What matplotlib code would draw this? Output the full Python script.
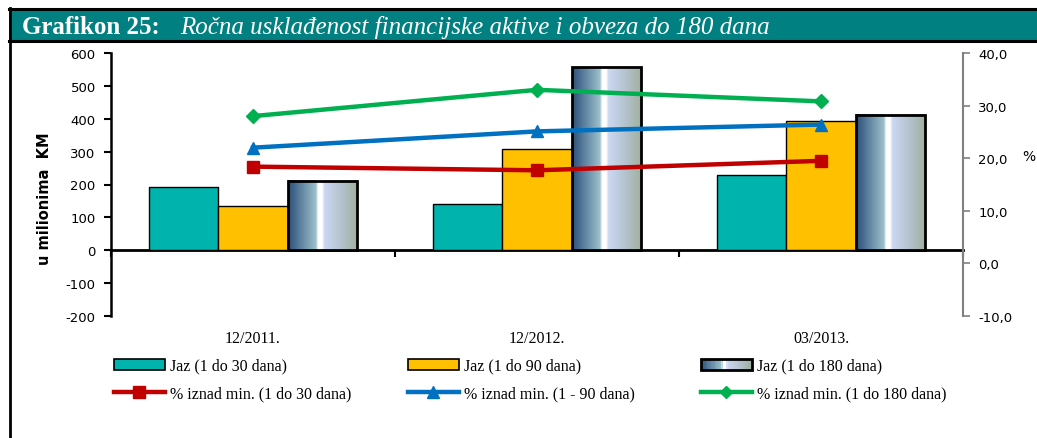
import numpy as np
import matplotlib
matplotlib.use("Agg")
import matplotlib.pyplot as plt
from matplotlib.patches import Rectangle
from matplotlib.lines import Line2D
from matplotlib.colors import LinearSegmentedColormap
from matplotlib.legend_handler import HandlerBase
from matplotlib.ticker import FuncFormatter

plt.rcParams["axes.unicode_minus"] = False

# ---- data ----
categories = ["12/2011.", "12/2012.", "03/2013."]
jaz_30 = [191, 142, 228]
jaz_90 = [135, 308, 393]
jaz_180 = [211, 556, 412]
pct_30 = [18.4, 17.7, 19.5]
pct_90 = [22.0, 25.1, 26.4]
pct_180 = [28.0, 33.0, 30.8]
left_ticks = [-200, -100, 0, 100, 200, 300, 400, 500, 600]
right_ticks = [-10, 0, 10, 20, 30, 40]
title_bold = "Grafikon 25:"
title_ital = "Ročna usklađenost financijske aktive i obveza do 180 dana"
ylabel_left = "u milionima  KM"
leg_bars = ["Jaz (1 do 30 dana)", "Jaz (1 do 90 dana)", "Jaz (1 do 180 dana)"]
leg_lines = ["% iznad min. (1 do 30 dana)", "% iznad min. (1 - 90 dana)", "% iznad min. (1 do 180 dana)"]

W, H = 1037, 439
fig = plt.figure(figsize=(W / 100, H / 100), dpi=100)
fig.patch.set_facecolor("white")

TEAL = "#00B4AE"
YELLOW = "#FFC000"
RED = "#C00000"
BLUE = "#0070C0"
GREEN = "#00B050"
BAND = "#008080"

grad_cmap = LinearSegmentedColormap.from_list(
    "grad",
    [(0.0, "#2B4F7A"), (0.40, "#9CC0CC"), (0.43, "#FFFFFF"), (0.49, "#FFFFFF"),
     (0.52, "#CCD8F2"), (0.75, "#B5C4D0"), (1.0, "#A0B09C")])

# ---- frame and title band ----
fig.add_artist(Rectangle((9 / W, 1 - 42 / H), (W - 9) / W, 32 / H, transform=fig.transFigure,
                         facecolor=BAND, edgecolor="none", zorder=0))
for yy in (10, 41.5):
    fig.add_artist(Line2D([9 / W, 1], [1 - yy / H] * 2, transform=fig.transFigure,
                          color="black", lw=2.2))
fig.add_artist(Line2D([9.5 / W, 9.5 / W], [1 - 9 / H, 0], transform=fig.transFigure,
                      color="black", lw=2.0))
fig.text(22 / W, 1 - 34 / H, title_bold, color="white", family="Liberation Serif",
         fontweight="bold", fontsize=18, va="baseline", ha="left")
fig.text(180 / W, 1 - 34 / H, title_ital, color="white", family="Liberation Serif",
         fontstyle="italic", fontsize=18, va="baseline", ha="left")

# ---- axes ----
ax1 = fig.add_axes([111 / W, 1 - 317 / H, (963 - 111) / W, (317 - 54) / H])
ax2 = ax1.twinx()

x = np.arange(len(categories))
bw = 0.245
offs = [-bw, 0.0, bw]

ax1.bar(x + offs[0], jaz_30, bw, color=TEAL, edgecolor="black", linewidth=1.0, zorder=3)
ax1.bar(x + offs[1], jaz_90, bw, color=YELLOW, edgecolor="black", linewidth=1.0, zorder=3)
gb = ax1.bar(x + offs[2], jaz_180, bw, facecolor="none", edgecolor="black", linewidth=2.0, zorder=4)
grad = np.linspace(0, 1, 256).reshape(1, -1)
for r in gb.patches:
    ax1.imshow(grad, extent=(r.get_x(), r.get_x() + r.get_width(), 0, r.get_height()),
               aspect="auto", cmap=grad_cmap, zorder=3, interpolation="bilinear")

ax1.set_xlim(-0.5, 2.5)
ax1.set_ylim(-200, 600)
ax1.set_yticks(left_ticks)
ax1.tick_params(axis="y", direction="out", length=5, width=1.5, labelsize=9.5, pad=6, colors="black")
for s in ("top", "right"):
    ax1.spines[s].set_visible(False)
ax1.spines["left"].set_linewidth(1.8)
ax1.spines["bottom"].set_position(("data", 0))
ax1.spines["bottom"].set_linewidth(2.0)
ax1.set_xticks([-0.5, 0.5, 1.5, 2.5])
ax1.set_xticklabels([])
ax1.tick_params(axis="x", direction="out", length=5, width=1.5)

sec = ax1.secondary_xaxis("bottom")
sec.set_xticks(x)
sec.set_xticklabels(categories, family="Liberation Serif", fontsize=11.5)
sec.tick_params(length=0, pad=10)
sec.spines["bottom"].set_visible(False)

ax1.patch.set_visible(False)

# lines
ax2.plot(x, pct_30, color=RED, lw=3.2, marker="s", markersize=8, zorder=5)
ax2.plot(x, pct_90, color=BLUE, lw=3.2, marker="^", markersize=9, zorder=5)
ax2.plot(x, pct_180, color=GREEN, lw=3.2, marker="D", markersize=7, zorder=5)
ax2.set_ylim(-10, 40)
ax2.set_yticks(right_ticks)
ax2.yaxis.set_major_formatter(FuncFormatter(lambda v, p: f"{v:.1f}".replace(".", ",")))
ax2.tick_params(axis="y", direction="out", length=5, width=1.2, color="#808080",
                labelcolor="black", labelsize=9.5, pad=6)
for s in ("top", "left", "bottom"):
    ax2.spines[s].set_visible(False)
ax2.spines["right"].set_color("#808080")
ax2.spines["right"].set_linewidth(1.5)

fig.text(45 / W, 1 - 199 / H, ylabel_left, rotation=90, ha="center", va="center",
         fontsize=10.5, fontweight="bold")
fig.text(1022 / W, 1 - 157 / H, "%", ha="left", va="center", fontsize=10)

# ---- legend ----
class GradHandler(HandlerBase):
    def create_artists(self, legend, orig_handle, xdescent, ydescent, width, height, fontsize, trans):
        n = 40
        arts = []
        for i in range(n):
            arts.append(Rectangle((-xdescent + width * i / n, -ydescent), width / n, height,
                                  facecolor=grad_cmap((i + 0.5) / n), edgecolor="none", transform=trans))
        arts.append(Rectangle((-xdescent, -ydescent), width, height, facecolor="none",
                              edgecolor="black", lw=2.0, transform=trans))
        return arts

class GradKey:
    pass

h_bars = [Rectangle((0, 0), 1, 1, facecolor=TEAL, edgecolor="black", lw=1.2),
          Rectangle((0, 0), 1, 1, facecolor=YELLOW, edgecolor="black", lw=1.2),
          GradKey()]
h_lines = [Line2D([], [], color=RED, lw=3.2, marker="s", markersize=8),
           Line2D([], [], color=BLUE, lw=3.2, marker="^", markersize=8),
           Line2D([], [], color=GREEN, lw=3.2, marker="D", markersize=6)]
col_x = [109, 403, 696]
for i in range(3):
    fig.legend([h_bars[i], h_lines[i]], [leg_bars[i], leg_lines[i]],
               loc="upper left", bbox_to_anchor=(col_x[i] / W, 1 - 354 / H),
               frameon=False, prop={"family": "Liberation Serif", "size": 11.5},
               handlelength=3.2, handletextpad=0.3, labelspacing=0.75,
               borderaxespad=0, borderpad=0.3, handler_map={GradKey: GradHandler()})

fig.savefig("out.png", dpi=100)
